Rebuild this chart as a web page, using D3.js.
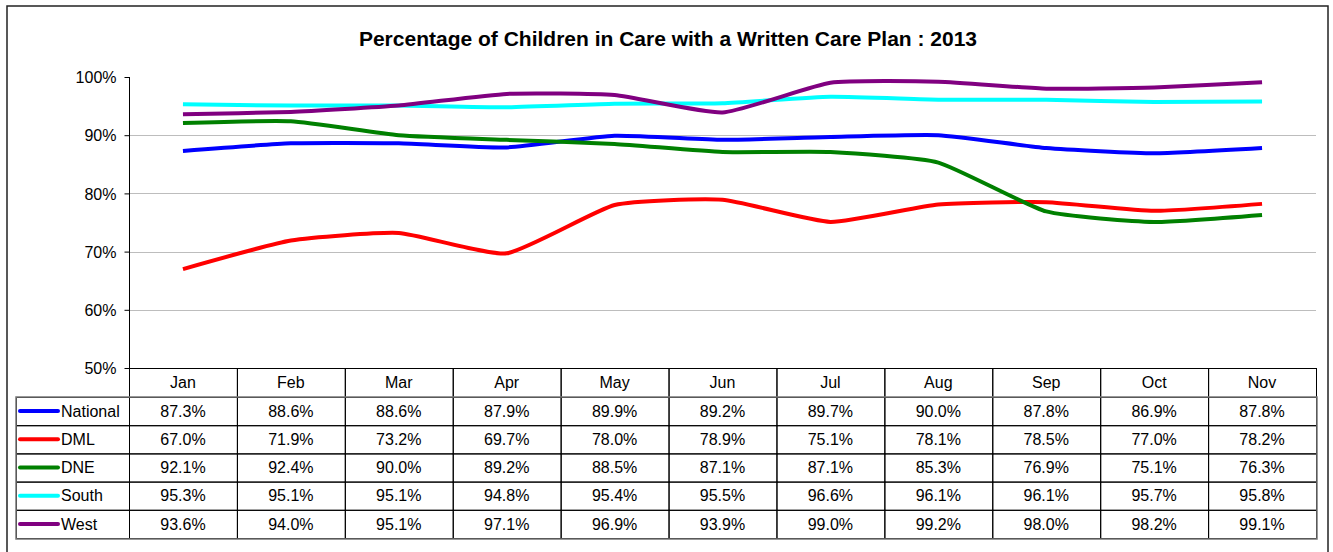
<!DOCTYPE html>
<html>
<head>
<meta charset="utf-8">
<script src="https://cdn.jsdelivr.net/npm/d3@7"></script>
<style>
  body { margin: 0; background: #fff; }
  svg text { font-family: "Liberation Sans", Arial, sans-serif; fill: #000; }
  .grid line { stroke: #bdbdbd; stroke-width: 1; }
  .axisy path, .axisy line { stroke: #000; }
  .cell { stroke: #000; stroke-width: 1; fill: none; }
</style>
</head>
<body>
<svg width="1333" height="552"></svg>
<script>
// months along the x axis / table header
var months = ["Jan", "Feb", "Mar", "Apr", "May", "Jun", "Jul", "Aug", "Sep", "Oct", "Nov"];

// series names + colours (same order as table rows)
var seriesNames = ["National", "DML", "DNE", "South", "West"];
var seriesColors = ["#0000ff", "#ff0000", "#008000", "#00ffff", "#800080"];

// values (percent)
var national = [87.3, 88.6, 88.6, 87.9, 89.9, 89.2, 89.7, 90.0, 87.8, 86.9, 87.8];
var dml      = [67.0, 71.9, 73.2, 69.7, 78.0, 78.9, 75.1, 78.1, 78.5, 77.0, 78.2];
var dne      = [92.1, 92.4, 90.0, 89.2, 88.5, 87.1, 87.1, 85.3, 76.9, 75.1, 76.3];
var south    = [95.3, 95.1, 95.1, 94.8, 95.4, 95.5, 96.6, 96.1, 96.1, 95.7, 95.8];
var west     = [93.6, 94.0, 95.1, 97.1, 96.9, 93.9, 99.0, 99.2, 98.0, 98.2, 99.1];

var yTicks = [50, 60, 70, 80, 90, 100];

var seriesValues = [national, dml, dne, south, west];

var svg = d3.select("svg");

// outer chart border (bottom edge runs off the picture)
svg.append("rect")
  .attr("x", 7).attr("y", 6)
  .attr("width", 1321).attr("height", 560)
  .attr("fill", "none")
  .attr("stroke", "#222")
  .attr("stroke-width", 1.5);

// title
svg.append("text")
  .attr("x", 668).attr("y", 46)
  .attr("text-anchor", "middle")
  .style("font-weight", "bold")
  .style("font-size", "21px")
  .text("Percentage of Children in Care with a Written Care Plan : 2013");

var plotLeft = 129, plotRight = 1316, plotTop = 77, plotBottom = 368;

var x = d3.scaleBand().domain(months).range([plotLeft, plotRight]);
var y = d3.scaleLinear().domain([50, 100]).range([plotBottom, plotTop]);

// horizontal grid lines
svg.append("g")
  .attr("class", "grid")
  .selectAll("line")
  .data(yTicks.filter(function(d) { return d > 50 && d < 100; }))
  .enter().append("line")
  .attr("x1", plotLeft).attr("x2", plotRight)
  .attr("y1", function(d) { return Math.round(y(d)) + 0.5; })
  .attr("y2", function(d) { return Math.round(y(d)) + 0.5; });

// y axis
var yAxis = d3.axisLeft(y)
  .tickValues(yTicks)
  .tickSize(5)
  .tickPadding(8)
  .tickFormat(function(d) { return d + "%"; });

var gy = svg.append("g")
  .attr("class", "axisy")
  .attr("transform", "translate(" + (plotLeft + 0.5) + ",0)")
  .call(yAxis);
gy.select(".domain").attr("d", "M0," + plotTop + "V" + plotBottom);
gy.selectAll("text").style("font-size", "16px").attr("dy", "0.35em");

// lines
var line = d3.line()
  .x(function(d, i) { return x(months[i]) + x.bandwidth() / 2; })
  .y(function(d) { return y(d); })
  .curve(d3.curveCardinal.tension(0.5));

svg.append("g")
  .selectAll("path")
  .data(seriesValues)
  .enter().append("path")
  .attr("d", line)
  .attr("fill", "none")
  .attr("stroke", function(d, i) { return seriesColors[i]; })
  .attr("stroke-width", 4)
  .attr("stroke-linejoin", "round");

// data table
var headerBottom = 397, rowH = 28.2;
var tableLeft = 16;
var table = svg.append("g");

// header cells (month columns only)
months.forEach(function(m) {
  table.append("rect")
    .attr("class", "cell")
    .attr("x", x(m) + 0.5).attr("y", plotBottom + 0.5)
    .attr("width", x.bandwidth()).attr("height", headerBottom - plotBottom);
  table.append("text")
    .attr("x", x(m) + x.bandwidth() / 2)
    .attr("y", (plotBottom + headerBottom) / 2)
    .attr("dy", "0.35em")
    .attr("text-anchor", "middle")
    .style("font-size", "16px")
    .text(m);
});

seriesNames.forEach(function(name, r) {
  var top = headerBottom + r * rowH;
  var mid = top + rowH / 2;

  table.append("rect")
    .attr("class", "cell")
    .attr("x", tableLeft + 0.5).attr("y", top + 0.5)
    .attr("width", plotLeft - tableLeft).attr("height", rowH);

  table.append("line")
    .attr("x1", 20).attr("x2", 58)
    .attr("y1", mid).attr("y2", mid)
    .attr("stroke", seriesColors[r])
    .attr("stroke-width", 4)
    .attr("stroke-linecap", "round");

  table.append("text")
    .attr("x", 61).attr("y", mid)
    .attr("dy", "0.35em")
    .style("font-size", "16px")
    .text(name);

  months.forEach(function(m, i) {
    table.append("rect")
      .attr("class", "cell")
      .attr("x", x(m) + 0.5).attr("y", top + 0.5)
      .attr("width", x.bandwidth()).attr("height", rowH);
    table.append("text")
      .attr("x", x(m) + x.bandwidth() / 2)
      .attr("y", mid)
      .attr("dy", "0.35em")
      .attr("text-anchor", "middle")
      .style("font-size", "16px")
      .text(seriesValues[r][i].toFixed(1) + "%");
  });
});

// heavier grey outline round the body of the table
table.append("rect")
  .attr("x", tableLeft).attr("y", headerBottom)
  .attr("width", plotRight - tableLeft + 1)
  .attr("height", rowH * seriesNames.length + 1)
  .attr("fill", "none")
  .attr("stroke", "#777")
  .attr("stroke-width", 1.5);
</script>
</body>
</html>
